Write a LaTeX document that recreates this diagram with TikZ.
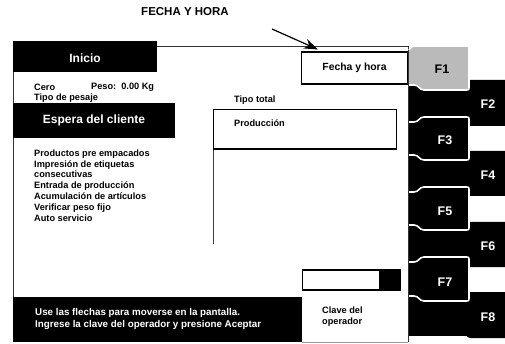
\documentclass[tikz,border=0pt]{standalone}
\usepackage{fontspec}
\setmainfont{Liberation Sans}
\usetikzlibrary{arrows.meta}
\tikzset{
  blk/.style={fill=black, draw=none},
  bigtxt/.style={text=white, font=\bfseries\fontsize{12}{14}\selectfont, inner sep=0pt},
  smalltxt/.style={font=\bfseries\fontsize{9.2}{10.8}\selectfont, inner sep=0pt, anchor=west, align=left},
  bartxt/.style={text=white, font=\bfseries\fontsize{9.8}{11.5}\selectfont, inner sep=0pt, anchor=west, align=left},
  keylbl/.style={font=\bfseries\fontsize{12.5}{14}\selectfont, text=white, inner sep=0pt},
  oddkey/.style={fill=black, draw=white, line width=1.6pt},
  frameline/.style={draw=black!80, line width=0.9pt},
}
\begin{document}
\begin{tikzpicture}[x=1pt,y=-1pt]
\useasboundingbox (0,0) rectangle (505,344);
% title and arrow
\node[font=\bfseries\fontsize{11.5}{13}\selectfont, inner sep=0pt] (title) at (185,12) {FECHA Y HORA};
% frame
\draw[frameline] (157,46) -- (408,46) -- (408,342);
\draw[frameline] (13,41) -- (13,342);
\draw[draw=black!40, line width=0.6pt] (302,342) -- (408,342);
% header boxes
\fill[blk] (13,41) rectangle (157,72);
\node[bigtxt] (inicio) at (85,58) {Inicio};
\node[smalltxt] (cero) at (34,87) {Cero};
\node[smalltxt] (peso) at (91,87) {Peso:\ \ 0.00 Kg};
\node[smalltxt] (tipopesaje) at (34,98) {Tipo de pesaje};
\fill[blk] (13,103) rectangle (175,138);
\node[bigtxt] (espera) at (94,120) {Espera del cliente};
\node[smalltxt] (lista) at (34,185.5) {Productos pre empacados\\Impresión de etiquetas\\consecutivas\\Entrada de producción\\Acumulación de artículos\\Verificar peso fijo\\Auto servicio};
% middle
\node[smalltxt] (tipototal) at (234,100) {Tipo total};
\draw[line width=1pt, black!75] (213.5,109) -- (213.5,244);
\draw[line width=1.2pt] (213.5,109.5) rectangle (396.5,149);
\node[smalltxt] (produccion) at (234,123) {Producción};
% fecha y hora box
\draw[line width=1.1pt] (301.5,52) rectangle (407.5,84);
\node[font=\bfseries\fontsize{10.4}{12}\selectfont, inner sep=0pt] (fecha) at (354.5,68) {Fecha y hora};
\coordinate (arrstart) at (272,29);
\coordinate (arrend) at (318,49.5);
\draw[line width=1.2pt, -{Stealth[length=14pt,width=10pt]}] (arrstart) -- (arrend);
% input field
\draw[line width=1.4pt] (302.5,270) rectangle (380,290);
\fill[blk] (380,269.3) rectangle (400.5,290.7);
% bottom bar
\fill[blk] (13,297) rectangle (302,342);
\node[bartxt] (instr) at (35,319) {Use las flechas para moverse en la pantalla.\\Ingrese la clave del operador y presione Aceptar};
\node[smalltxt] (clave) at (322,316.5) {Clave del\\operador};
% keys
\fill[blk] (409,84) rectangle (470,336);
\foreach \T/\B in {80/126, 151/196, 222/267, 292/338} {
  \fill[blk, rounded corners=4pt] (466,\T) rectangle (512,\B);
}
\draw[fill=black!27, draw=white, line width=1.6pt] (409,50) .. controls (412,46) .. (418,46) -- (465,46) .. controls (469,46) .. (469,50) -- (469,86) .. controls (469,90) .. (465,90) -- (424,90) .. controls (419,90) and (419,85) .. (414,85) -- (409,85);
\foreach \T/\B in {117/160, 187/230, 257/301} {
  \draw[oddkey] (409,\T+5) -- (414,\T+5) .. controls (419,\T+5) and (419,\T) .. (424,\T) -- (465,\T) .. controls (469,\T) .. (469,\T+4) -- (469,\B-4) .. controls (469,\B) .. (465,\B) -- (424,\B) .. controls (419,\B) and (419,\B-5) .. (414,\B-5) -- (409,\B-5);
}
\node[keylbl, text=black] (f1) at (442,69) {F1};
\node[keylbl] (f2) at (488,104) {F2};
\node[keylbl] (f3) at (445,140) {F3};
\node[keylbl] (f4) at (488,175) {F4};
\node[keylbl] (f5) at (445,211) {F5};
\node[keylbl] (f6) at (488,246) {F6};
\node[keylbl] (f7) at (445,282) {F7};
\node[keylbl] (f8) at (488,317) {F8};
\end{tikzpicture}
\end{document}
